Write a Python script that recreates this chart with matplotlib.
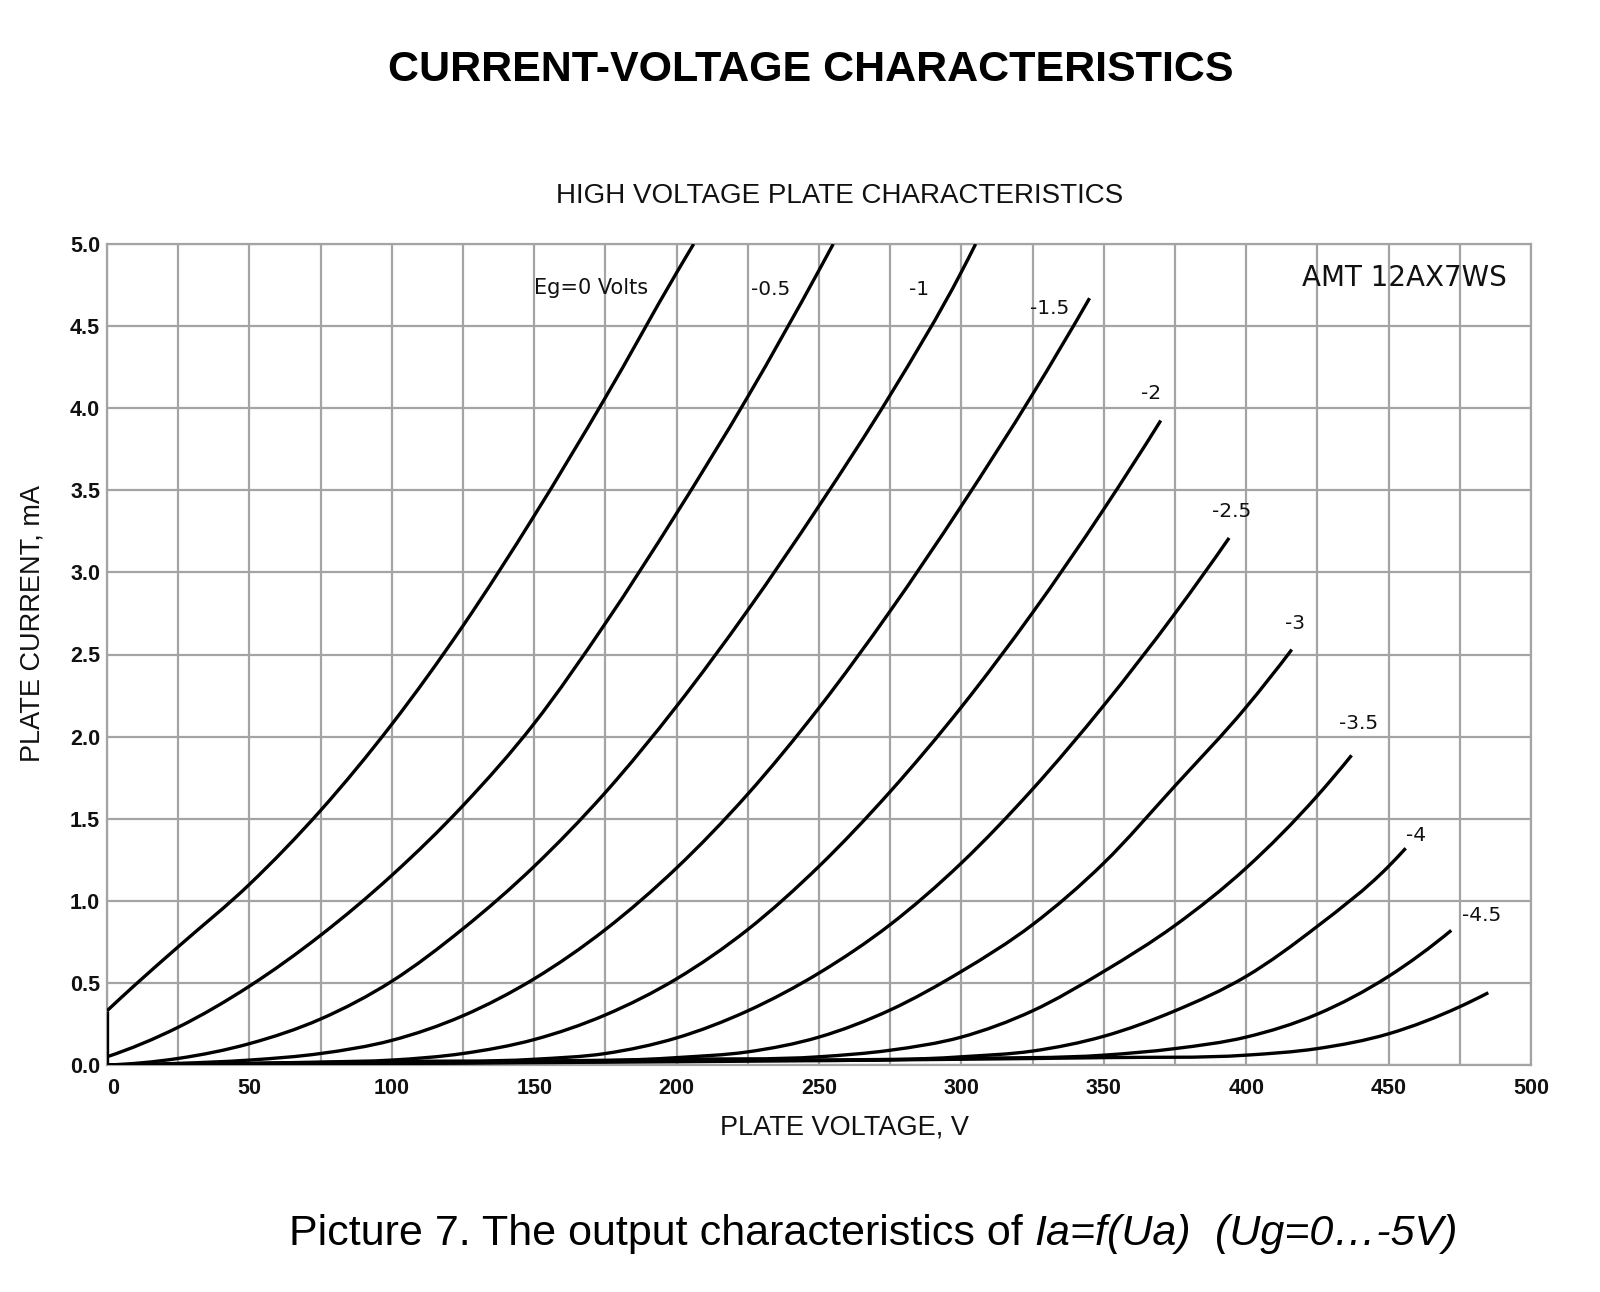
import matplotlib
matplotlib.use('Agg')
import matplotlib.pyplot as plt
from matplotlib.path import Path
from matplotlib.patches import PathPatch
import numpy as np

# plate characteristics (V in volts, I in mA)
eg_0_v = [0, 0, 10, 25, 50, 75, 100, 125, 150, 175, 200, 206]
eg_0_i = [0, 0.33, 0.49, 0.72, 1.10, 1.55, 2.075, 2.675, 3.345, 4.065, 4.825, 5.0]

eg_05_v = [0, 25, 50, 75, 100, 125, 150, 175, 200, 225, 250, 255]
eg_05_i = [0.05, 0.23, 0.48, 0.79, 1.155, 1.58, 2.08, 2.69, 3.36, 4.07, 4.84, 5.0]

eg_1_v = [0, 25, 50, 75, 100, 125, 150, 175, 200, 225, 250, 275, 300, 305]
eg_1_i = [0, 0.04, 0.13, 0.28, 0.51, 0.83, 1.21, 1.66, 2.185, 2.77, 3.405, 4.08, 4.83, 5.0]

eg_15_v = [0, 25, 50, 75, 100, 125, 150, 175, 200, 225, 250, 275, 300, 325, 345]
eg_15_i = [0, 0.01, 0.03, 0.07, 0.15, 0.30, 0.525, 0.825, 1.20, 1.65, 2.175, 2.765, 3.405, 4.085, 4.67]

eg_2_v = [0, 50, 75, 100, 125, 150, 175, 200, 225, 250, 275, 300, 325, 350, 370]
eg_2_i = [0, 0.01, 0.018, 0.03, 0.07, 0.155, 0.305, 0.525, 0.825, 1.21, 1.665, 2.18, 2.755, 3.385, 3.925]

eg_25_v = [0, 50, 100, 150, 175, 200, 225, 250, 275, 300, 325, 350, 375, 394]
eg_25_i = [0, 0.008, 0.02, 0.035, 0.07, 0.165, 0.33, 0.56, 0.855, 1.23, 1.68, 2.19, 2.75, 3.21]

eg_3_v = [0, 100, 200, 225, 250, 275, 300, 325, 350, 375, 400, 416]
eg_3_i = [0, 0.02, 0.045, 0.08, 0.17, 0.335, 0.57, 0.855, 1.23, 1.70, 2.18, 2.53]

eg_35_v = [0, 100, 200, 250, 275, 300, 325, 350, 375, 400, 425, 437]
eg_35_i = [0, 0.015, 0.035, 0.05, 0.09, 0.17, 0.33, 0.57, 0.85, 1.20, 1.64, 1.886]

eg_4_v = [0, 100, 200, 300, 325, 350, 375, 400, 425, 450, 456]
eg_4_i = [0, 0.01, 0.03, 0.05, 0.085, 0.175, 0.33, 0.54, 0.845, 1.21, 1.32]

eg_45_v = [0, 100, 200, 300, 350, 375, 400, 425, 450, 472]
eg_45_i = [0, 0.01, 0.025, 0.04, 0.06, 0.10, 0.17, 0.31, 0.54, 0.82]

eg_5_v = [0, 100, 200, 300, 350, 400, 425, 450, 475, 485]
eg_5_i = [0, 0.01, 0.02, 0.035, 0.045, 0.06, 0.10, 0.19, 0.355, 0.44]

curves = [(eg_0_v, eg_0_i), (eg_05_v, eg_05_i), (eg_1_v, eg_1_i), (eg_15_v, eg_15_i),
          (eg_2_v, eg_2_i), (eg_25_v, eg_25_i), (eg_3_v, eg_3_i), (eg_35_v, eg_35_i),
          (eg_4_v, eg_4_i), (eg_45_v, eg_45_i), (eg_5_v, eg_5_i)]

curve_labels = ['Eg=0 Volts', '-0.5', '-1', '-1.5', '-2', '-2.5', '-3', '-3.5', '-4', '-4.5']
label_pos = [(170, 4.73), (233, 4.72), (285, 4.72), (331, 4.61), (366.5, 4.09),
             (395, 3.37), (417, 2.69), (439.5, 2.08), (459.5, 1.40), (482.5, 0.91)]

x_ticks = np.arange(0, 501, 50)
y_ticks = np.arange(0, 5.01, 0.5)

grid_col = '#a4a4a4'


def bezier_path(v, i):
    # smooth cubic through the read points (three-point parabola tangents), as bezier segments
    x = np.asarray(v, float)
    y = np.asarray(i, float)
    h = np.diff(x)
    d = np.diff(y) / h
    n = len(x)
    m = np.zeros(n)
    for k in range(1, n - 1):
        m[k] = (h[k] * d[k - 1] + h[k - 1] * d[k]) / (h[k - 1] + h[k])
    m[0] = max(2 * d[0] - m[1], 0.0) if n > 2 else d[0]
    m[-1] = 2 * d[-1] - m[-2] if n > 2 else d[-1]
    verts = [(x[0], y[0])]
    codes = [Path.MOVETO]
    for k in range(n - 1):
        verts += [(x[k] + h[k] / 3, y[k] + m[k] * h[k] / 3),
                  (x[k + 1] - h[k] / 3, y[k + 1] - m[k + 1] * h[k] / 3),
                  (x[k + 1], y[k + 1])]
        codes += [Path.CURVE4] * 3
    return Path(verts, codes)


fig = plt.figure(figsize=(16, 12.92), dpi=100)
ax = fig.add_axes([107 / 1600, 1 - 1065 / 1292, 1424 / 1600, 821 / 1292])

for v, i in curves:
    if v[0] == v[1]:
        # vertical start of the Eg=0 curve
        ax.plot(v[:2], i[:2], color='black', lw=2.4, solid_capstyle='butt', zorder=3)
        v, i = v[1:], i[1:]
    ax.add_patch(PathPatch(bezier_path(v, i), fill=False, edgecolor='black', lw=2.4,
                           capstyle='butt', joinstyle='round', zorder=3))

for txt, (x, y) in zip(curve_labels, label_pos):
    ax.text(x, y, txt, ha='center', va='center', fontsize=14.5 if txt != curve_labels[0] else 15,
            family='DejaVu Sans', color='#111111', zorder=4)

ax.text(455.5, 4.79, 'AMT 12AX7WS', ha='center', va='center', fontsize=20,
        family='DejaVu Sans', color='#111111')

ax.set_xlim(0, 500)
ax.set_ylim(0, 5.0)
ax.set_xticks(x_ticks)
ax.set_xticks(np.arange(25, 500, 50), minor=True)
ax.set_yticks(y_ticks)
ax.set_xticklabels([str(t) for t in x_ticks])
ax.set_yticklabels(['%.1f' % t for t in y_ticks])
ax.get_xticklabels()[0].set_ha('left')
ax.grid(True, which='both', color=grid_col, lw=1.6)
ax.set_axisbelow(True)
ax.tick_params(which='both', length=0)
ax.tick_params(axis='x', pad=9)
ax.tick_params(axis='y', pad=5)
for lab in ax.get_xticklabels() + ax.get_yticklabels():
    lab.set_fontfamily('Liberation Sans')
    lab.set_fontweight('bold')
    lab.set_fontsize(15.5)
    lab.set_color('#111111')
for s in ax.spines.values():
    s.set_color(grid_col)
    s.set_linewidth(1.6)

fig.text(811 / 1600, 1 - 70 / 1292, 'CURRENT-VOLTAGE CHARACTERISTICS', ha='center', va='center',
         fontsize=31, fontweight='bold', family='Liberation Sans')
fig.text(840 / 1600, 1 - 196 / 1292, 'HIGH VOLTAGE PLATE CHARACTERISTICS', ha='center', va='center',
         fontsize=20, family='Liberation Sans', color='#111111')
fig.text(33 / 1600, 1 - 624 / 1292, 'PLATE CURRENT, mA', ha='center', va='center', rotation=90,
         fontsize=19.5, family='Liberation Sans', color='#111111')
fig.text(844 / 1600, 1 - 1128 / 1292, 'PLATE VOLTAGE, V', ha='center', va='center',
         fontsize=19.5, family='Liberation Sans', color='#111111')

# caption with italic parts, pieces placed one after another
cap_y = 1 - 1234 / 1292
parts = [('Picture 7. The output characteristics of ', 'normal'),
         ('Ia=f(Ua)', 'italic'),
         ('  (Ug=0\u2026-5V)', 'italic')]
fig.canvas.draw()
renderer = fig.canvas.get_renderer()
x = 289 / 1600
for txt, style in parts:
    t = fig.text(x, cap_y, txt, ha='left', va='center', fontsize=31, style=style,
                 family='Liberation Sans')
    bb = t.get_window_extent(renderer=renderer)
    x += bb.width / 1600

plt.savefig('out.png', dpi=100)
